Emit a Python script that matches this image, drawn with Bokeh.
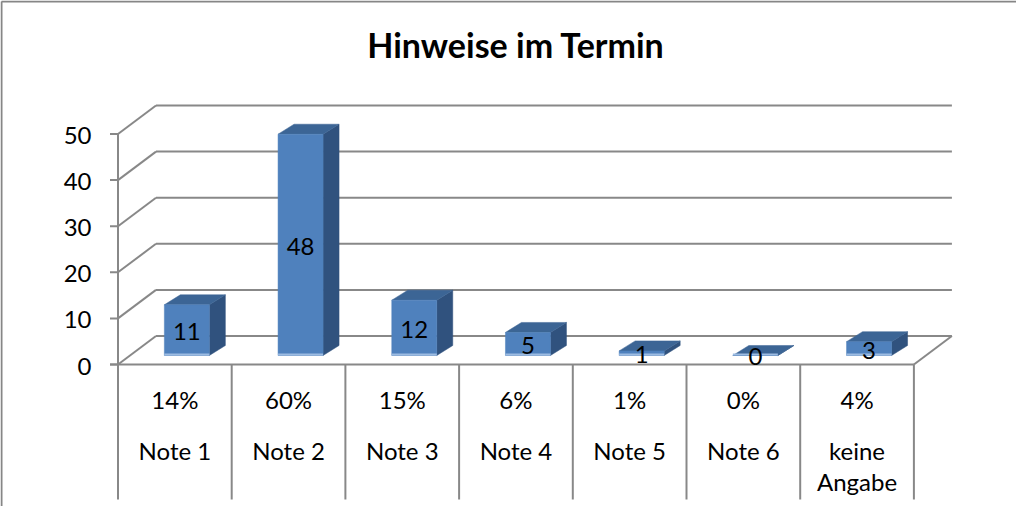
from bokeh.plotting import figure
from bokeh.models import Range1d
from bokeh.core.properties import value
from bokeh.embed import file_html
from bokeh.resources import INLINE

# ---------------- data ----------------
title = "Hinweise im Termin"
categories = ["Note 1", "Note 2", "Note 3", "Note 4", "Note 5", "Note 6", "keine\nAngabe"]
counts = [11, 48, 12, 5, 1, 0, 3]
percent_labels = ["14%", "60%", "15%", "6%", "1%", "0%", "4%"]
y_ticks = [0, 10, 20, 30, 40, 50]

# ---------------- layout (pixels) ----------------
W, H = 1016, 506
X0, Y0 = 117.5, 364.0      # canvas px of the front axis origin
CW = 113.7                 # px per category
PY = 4.61                  # px per value unit
FONT = value("Lato")
FS = "24px"
GRAY = "#888888"

def dx(px):
    return px / CW

def dy(px):
    return px / PY

def sx(px):
    return (px - X0) / CW

def sy(py):
    return (Y0 - py) / PY

DX, DY = dx(38), dy(28.5)          # depth of the 3D box
F = 0.316                          # bar depth position
BW = dx(45)                        # bar front width
BDX, BDY = dx(16), dy(10)          # bar depth

p = figure(width=W, height=H, x_range=Range1d(sx(0), sx(W)), y_range=Range1d(sy(H), sy(0)),
           output_backend="svg", toolbar_location=None, min_border=0,
           x_axis_location=None, y_axis_location=None)
p.grid.visible = False
p.outline_line_color = None
p.background_fill_color = "white"
p.border_fill_color = "white"

n = len(categories)

# outer chart border (left and top visible)
p.segment(x0=[sx(1), sx(1)], y0=[sy(H), sy(1)], x1=[sx(1), sx(W)], y1=[sy(1), sy(1)],
          line_color="#868686", line_width=2)

# title
p.text(x=[sx(515.5)], y=[sy(43.5)], text=[title], text_font=FONT, text_font_size="34px",
       text_font_style="bold", text_align="center", text_baseline="middle", text_color="black")

# left wall diagonals and back wall gridlines
p.segment(x0=[0] * len(y_ticks), y0=y_ticks, x1=[DX] * len(y_ticks), y1=[t + DY for t in y_ticks],
          line_color=GRAY, line_width=2)
p.segment(x0=[DX] * len(y_ticks), y0=[t + DY for t in y_ticks], x1=[n + DX] * len(y_ticks),
          y1=[t + DY for t in y_ticks], line_color=GRAY, line_width=2)
# floor: front edge and right diagonal
p.segment(x0=[sx(X0 - 8), n], y0=[0, 0], x1=[n, n + DX], y1=[0, DY], line_color=GRAY, line_width=2)
# value axis line and ticks
p.segment(x0=[0], y0=[0], x1=[0], y1=[max(y_ticks)], line_color=GRAY, line_width=2)
p.segment(x0=[dx(-8)] * len(y_ticks), y0=y_ticks, x1=[0] * len(y_ticks), y1=y_ticks,
          line_color=GRAY, line_width=2)
p.text(x=[sx(91)] * len(y_ticks), y=[t - dy(1.5) for t in y_ticks], text=[str(t) for t in y_ticks],
       text_font=FONT, text_font_size=FS, text_align="right", text_baseline="middle", text_color="black")

# data table lines
table_bottom = sy(499)
p.segment(x0=list(range(n + 1)), y0=[0] * (n + 1), x1=list(range(n + 1)), y1=[table_bottom] * (n + 1),
          line_color=GRAY, line_width=2)
centers = [i + 0.5 for i in range(n)]
p.text(x=centers, y=[sy(399)] * n, text=percent_labels, text_font=FONT, text_font_size=FS,
       text_align="center", text_baseline="middle", text_color="black")
p.text(x=centers, y=[sy(435)] * n, text=categories, text_font=FONT, text_font_size=FS,
       text_align="center", text_baseline="top", text_line_height=1.1, text_color="black")

# bars
front_x, front_y, top_x, top_y, side_x, side_y = [], [], [], [], [], []
lab_x, lab_y, edge_x0, edge_x1, edge_y = [], [], [], [], []
for i, v in enumerate(counts):
    l = i + 0.5 - BW / 2 + F * DX
    r = l + BW
    b = F * DY
    t = v + F * DY
    front_x.append([l, r, r, l]); front_y.append([b, b, t, t])
    top_x.append([l, r, r + BDX, l + BDX]); top_y.append([t, t, t + BDY, t + BDY])
    side_x.append([r, r + BDX, r + BDX, r]); side_y.append([b, b + BDY, t + BDY, t])
    lab_x.append((l + r) / 2); lab_y.append((b + t) / 2)
    edge_x0.append(l); edge_x1.append(r); edge_y.append(b + dy(1))

p.patches(xs=side_x, ys=side_y, fill_color="#30527E", line_color="#30527E", line_width=0.5)
p.patches(xs=top_x, ys=top_y, fill_color="#3C6595", line_color="#3C6595", line_width=0.5)
p.patches(xs=front_x, ys=front_y, fill_color="#4F81BD", line_color="#4F81BD", line_width=0.5)
p.segment(x0=edge_x0, y0=edge_y, x1=edge_x1, y1=edge_y, line_color="#9DBCE2", line_width=2)
p.text(x=lab_x, y=[y - dy(1.5) for y in lab_y], text=[str(v) for v in counts], text_font=FONT,
       text_font_size=FS, text_align="center", text_baseline="middle", text_color="black")

open("out.html", "w").write(file_html(p, INLINE))
